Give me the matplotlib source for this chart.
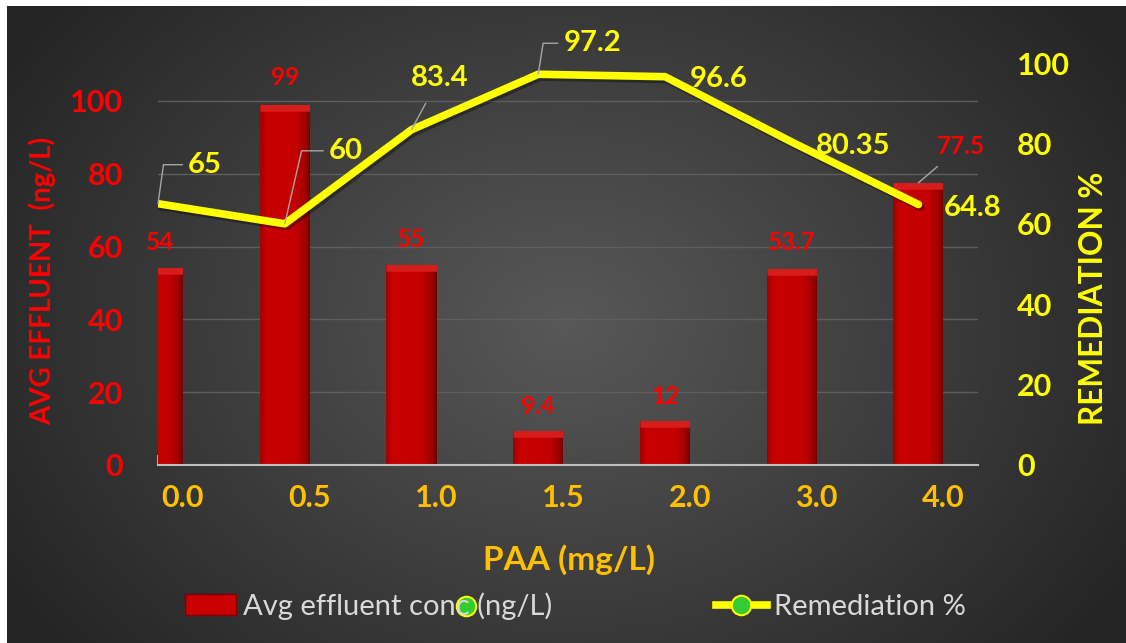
import numpy as np
import matplotlib.pyplot as plt
import matplotlib.patheffects as pe
from matplotlib.colors import LinearSegmentedColormap
from matplotlib.lines import Line2D
from matplotlib.patches import Patch
from matplotlib.transforms import ScaledTranslation

plt.rcParams['font.family'] = ['Lato', 'DejaVu Sans']

# data
paa = ['0.0', '0.5', '1.0', '1.5', '2.0', '3.0', '4.0']
effluent = [54, 99, 55, 9.4, 12, 53.7, 77.5]
remediation = [65, 60, 83.4, 97.2, 96.6, 80.35, 64.8]

# where the data labels sit, offsets in pixels from the point
bar_off = [(2, 26), (0, 27), (0, 25), (0, 24), (0, 25), (0, 27), (42, 36)]
line_off = [(47, 39), (61, 73), (28, 52), (54, 31), (54, -2), (61, -4), (54, -3)]
# leader lines: None, 'straight' or an angle for the elbow
line_leader = [82, 77, 'straight', 81, None, None, None]
bar_leader = [None, None, None, None, None, None, 'straight']

RED = '#FF0000'
YEL = '#FFFF00'
ORANGE = '#FFC000'
LEAD = '#A6A6A6'

fig = plt.figure(figsize=(11.26, 6.43), dpi=100)
fig.patch.set_facecolor('white')

# dark radial background
bg = fig.add_axes([7 / 1126, 0, 1 - 7 / 1126, 1 - 6 / 643])
bg.axis('off')
yy, xx = np.mgrid[0:1:300j, 0:1:500j]
r = np.sqrt(((xx - 0.5) / 0.55) ** 2 + ((yy - 0.5) / 0.75) ** 2)
v = np.clip(88 - 48 * r, 36, 255) / 255
bg.imshow(np.dstack([v, v, v]), aspect='auto', extent=[0, 1, 0, 1])

ax = fig.add_axes([158 / 1126, 178 / 643, 820 / 1126, 402 / 643])
ax.set_facecolor('none')
x = np.arange(len(paa))

bars = ax.bar(x, effluent, width=0.395, color='#C00000', zorder=2)

# shade the bars a bit so they look like the bevelled excel ones
barcmap = LinearSegmentedColormap.from_list(
    'bar', [(0, '#A00000'), (0.12, '#C80000'), (0.7, '#C40000'), (0.9, '#A00000'), (1, '#6A0000')])
for b in bars:
    x0, y0 = b.get_x(), b.get_y()
    w, h = b.get_width(), b.get_height()
    im = ax.imshow(np.linspace(0, 1, 64)[None, :], extent=[x0, x0 + w, y0, y0 + h],
                   aspect='auto', cmap=barcmap, zorder=2.1)
    # clip with the path (not the rectangle) so the axes clip box stays
    im.set_clip_path(b.get_path(), b.get_transform())
    top, = ax.plot([x0, x0 + w], [h, h], color='#D81C1C', lw=9, solid_capstyle='butt', zorder=2.2)
    top.set_clip_path(b.get_path(), b.get_transform())

ax.set_yticks(range(0, 101, 20))
ax.set_xticks(x, paa)
ax.set_axisbelow(True)
ax.grid(axis='y', color='#5E5E5E', lw=1)
for s in ['left', 'right', 'top']:
    ax.spines[s].set_visible(False)
ax.spines['bottom'].set_color('#BFBFBF')
ax.spines['bottom'].set_linewidth(1.5)
ax.tick_params(axis='x', direction='in', length=7, width=1.2, color='#BFBFBF',
               pad=14, labelsize=22, labelcolor=ORANGE)
ax.tick_params(axis='y', length=0, pad=25, labelsize=22, labelcolor=RED)
for lab in ax.get_xticklabels():
    lab.set_fontweight('bold')
    lab.set_transform(lab.get_transform() + ScaledTranslation(0.25, 0, fig.dpi_scale_trans))
for lab in ax.get_yticklabels():
    lab.set_fontweight('bold')

ax.set_ylabel('AVG EFFLUENT  (ng/L)', color=RED, fontsize=20, fontweight='bold')
ax.yaxis.set_label_coords(-0.124, 0.458)
ax.set_xlabel('PAA (mg/L)', color=ORANGE, fontsize=24, fontweight='bold')
ax.xaxis.label.set_va('baseline')
ax.xaxis.set_label_coords(0.501, -0.261)

for i, val in enumerate(effluent):
    arrow = None
    if bar_leader[i] == 'straight':
        arrow = dict(arrowstyle='-', color=LEAD, lw=1, shrinkA=6, shrinkB=0)
    ax.annotate(f'{val:g}', (x[i], val), xytext=bar_off[i], textcoords='offset pixels',
                ha='center', va='center', color=RED, fontsize=17.5, fontweight='bold',
                arrowprops=arrow, annotation_clip=False, zorder=5)

ax2 = ax.twinx()
for s in ax2.spines.values():
    s.set_visible(False)
ax2.tick_params(axis='y', length=0, pad=28, labelsize=22, labelcolor=YEL)
ax2.set_ylabel('REMEDIATION %', color=YEL, fontsize=22.8, fontweight='bold')
ax2.yaxis.set_label_coords(1.123, 0.415)

ax2.plot(x, remediation, color=YEL, lw=5.5, solid_capstyle='round', zorder=3,
         path_effects=[pe.SimpleLineShadow(offset=(1.5, -2), alpha=0.35), pe.Normal()])

ax2.set_ylim(0, 100)
ax2.set_yticks(range(0, 101, 20))
for lab in ax2.get_yticklabels():
    lab.set_fontweight('bold')

for i, val in enumerate(remediation):
    lead = line_leader[i]
    arrow = None
    if lead == 'straight':
        arrow = dict(arrowstyle='-', color=LEAD, lw=1, shrinkA=8, shrinkB=0)
    elif lead is not None:
        arrow = dict(arrowstyle='-', color=LEAD, lw=1, shrinkA=2, shrinkB=0,
                     connectionstyle=f'angle,angleA=0,angleB={lead},rad=0')
    ax2.annotate(f'{val:g}', (x[i], val), xytext=line_off[i], textcoords='offset pixels',
                 ha='center', va='center', color=YEL, fontsize=21, fontweight='bold',
                 arrowprops=arrow, annotation_clip=False, zorder=6)

# limits last, the twin axis plot would autoscale x otherwise
ax.set_xlim(0, 6.47)
ax.set_ylim(0, 110.4)

handles = [Patch(facecolor='#C80000', edgecolor='#800000'),
           Line2D([], [], color=YEL, lw=5.5, marker='o', markersize=14,
                  markerfacecolor='#33CC33', markeredgecolor=YEL, markeredgewidth=1.5)]
fig.legend(handles, ['Avg effluent conc (ng/L)', 'Remediation %'], ncol=2, loc='center',
           bbox_to_anchor=(0.511, 0.0575), frameon=False, fontsize=21, labelcolor='#D9D9D9',
           handlelength=1.75, handletextpad=0.25, columnspacing=5.6)

# the stray legend marker that sits on top of "conc" in the original
fig.add_artist(Line2D([466 / 1126], [37 / 643], transform=fig.transFigure, marker='o',
                      markersize=14, markerfacecolor='#33CC33', markeredgecolor=YEL,
                      markeredgewidth=1.5))

fig.savefig('out.png', dpi=100, facecolor=fig.get_facecolor())
